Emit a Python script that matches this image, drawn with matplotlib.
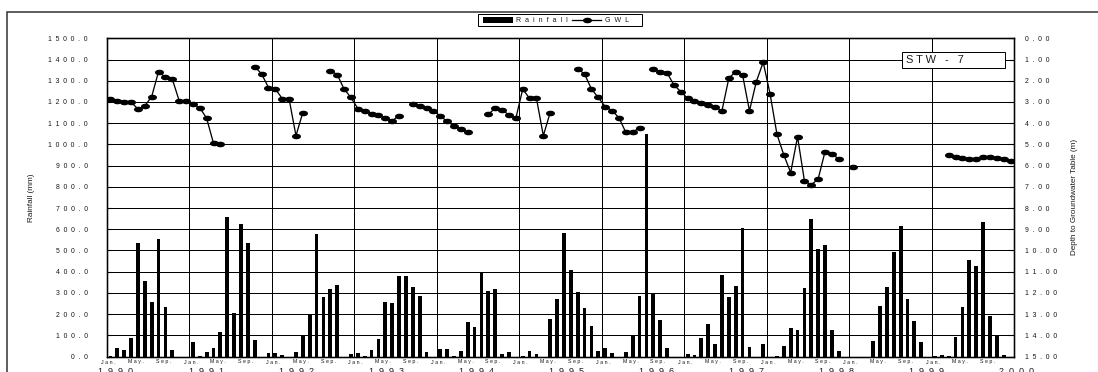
import numpy as np
import matplotlib
matplotlib.use("Agg")
import matplotlib.pyplot as plt
from matplotlib.patches import Rectangle
from matplotlib.lines import Line2D
from matplotlib.path import Path
from matplotlib.markers import MarkerStyle

plt.rcParams['font.family'] = ['Liberation Sans', 'DejaVu Sans']

nan = np.nan

# ---- data -------------------------------------------------------------
years = list(range(1990, 2001))
month_names = ['Jan.', 'May.', 'Sep.']
month_index = [0, 4, 8]
well_name = 'STW-7'

# monthly rainfall (mm), Jan..Dec
rain_1990 = [3, 42, 31, 85, 534, 357, 258, 554, 235, 31, 0, 0]
rain_1991 = [68, 3, 20, 38, 115, 656, 205, 625, 537, 77, 0, 17]
rain_1992 = [16, 8, 0, 20, 101, 195, 576, 280, 318, 339, 0, 14]
rain_1993 = [16, 3, 30, 82, 255, 252, 380, 378, 326, 287, 20, 0]
rain_1994 = [35, 36, 3, 25, 162, 139, 398, 307, 318, 13, 20, 0]
rain_1995 = [3, 24, 11, 0, 178, 272, 581, 409, 304, 230, 145, 24]
rain_1996 = [39, 17, 0, 19, 101, 285, 1049, 299, 173, 39, 0, 0]
rain_1997 = [11, 8, 87, 154, 60, 383, 279, 332, 605, 43, 0, 58]
rain_1998 = [0, 3, 49, 135, 126, 324, 648, 505, 524, 126, 24, 0]
rain_1999 = [0, 0, 0, 71, 239, 329, 493, 615, 271, 168, 66, 0]
rain_2000 = [3, 9, 3, 93, 231, 457, 428, 634, 192, 101, 9, 0]

# monthly depth to groundwater table (m), Jan..Dec
gwl_1990 = [2.86, 2.95, 2.98, 3.01, 3.33, 3.19, 2.75, 1.57, 1.84, 1.92, 2.94, 2.94]
gwl_1991 = [3.11, 3.27, 3.77, 4.95, 5.00, nan, nan, nan, nan, 1.33, 1.68, 2.32]
gwl_1992 = [2.39, 2.84, 2.86, 4.59, 3.50, nan, nan, nan, 1.52, 1.71, 2.39, 2.79]
gwl_1993 = [3.31, 3.44, 3.55, 3.63, 3.74, 3.90, 3.64, nan, 3.09, 3.19, 3.30, 3.41]
gwl_1994 = [3.66, 3.92, 4.13, 4.27, 4.43, nan, nan, 3.58, 3.30, 3.38, 3.61, 3.77]
gwl_1995 = [2.40, 2.83, 2.83, 4.59, 3.50, nan, nan, nan, 1.44, 1.68, 2.39, 2.79]
gwl_1996 = [3.22, 3.41, 3.74, 4.43, 4.43, 4.21, nan, 1.44, 1.57, 1.62, 2.20, 2.51]
gwl_1997 = [2.83, 2.94, 3.03, 3.14, 3.25, 3.41, 1.88, 1.57, 1.73, 3.42, 2.04, 1.13]
gwl_1998 = [2.62, 4.52, 5.50, 6.33, 4.64, 6.72, 6.91, 6.63, 5.34, 5.45, 5.69, nan]
gwl_1999 = [6.05, nan, nan, nan, nan, nan, nan, nan, nan, nan, nan, nan]
gwl_2000 = [nan, nan, 5.50, 5.58, 5.64, 5.70, 5.70, 5.61, 5.61, 5.66, 5.70, 5.80]

rainfall = np.array(rain_1990 + rain_1991 + rain_1992 + rain_1993 + rain_1994 +
                    rain_1995 + rain_1996 + rain_1997 + rain_1998 + rain_1999 +
                    rain_2000, dtype=float)
gwl = np.array(gwl_1990 + gwl_1991 + gwl_1992 + gwl_1993 + gwl_1994 +
               gwl_1995 + gwl_1996 + gwl_1997 + gwl_1998 + gwl_1999 +
               gwl_2000, dtype=float)


def spaced(s, gap=1):
    return (' ' * gap).join(s)


# ---- figure -----------------------------------------------------------
W, H, DPI = 1098, 372, 100
fig = plt.figure(figsize=(W / DPI, H / DPI), dpi=DPI)
fig.patch.set_facecolor('white')


def fx(px):
    return px / W


def fy(py):
    return 1 - py / H


PT = 72.0 / DPI  # points per pixel
INK = '#1a1a1a'

# plot area in pixels
AX_L, AX_R, AX_T, AX_B = 107, 1014, 38.3, 356.5

# outer chart frame
fig.add_artist(Rectangle((fx(7), fy(400)), fx(1200) - fx(7), fy(12) - fy(400),
                         transform=fig.transFigure, fill=False,
                         edgecolor='#3a3a3a', linewidth=1.6 * PT))

ax = fig.add_axes([fx(AX_L), fy(AX_B), fx(AX_R) - fx(AX_L), fy(AX_T) - fy(AX_B)])
n = len(rainfall)
x = np.arange(n) + 0.5

ax.bar(x, rainfall, width=0.55, color='black', zorder=3)
ax.set_xlim(0, n)
ax.set_ylim(0, 1500)

yt = np.arange(0, 1501, 100)
ax.set_yticks(yt)
ax.set_yticklabels([spaced(f'{v:.1f}', 2) for v in yt],
                   fontsize=6.9 * PT, color=INK)
ax.tick_params(axis='y', direction='in', length=3, width=0.8, pad=19 * PT)

# month labels under each year
xt, xl = [], []
for k in range(len(years)):
    for m, name in zip(month_index, month_names):
        xt.append(12 * k + m + 0.5 - 0.3)
        xl.append(spaced(name, 1))
ax.set_xticks(xt)
ax.set_xticklabels(xl, fontsize=5.3 * PT, color=INK)
ax.tick_params(axis='x', length=0, pad=3 * PT)
ax.set_xticks(np.arange(0, n + 1, 12), minor=True)
ax.tick_params(axis='x', which='minor', length=0)

ax.grid(axis='y', which='major', color='black', linewidth=1.0 * PT, zorder=1)
ax.grid(axis='x', which='minor', color='black', linewidth=1.0 * PT, zorder=1)
ax.grid(axis='x', which='major', visible=False)
ax.set_axisbelow(True)
for s in ax.spines.values():
    s.set_color('black')
    s.set_linewidth(1.3 * PT)

ax.set_ylabel('Rainfall (mm)', fontsize=8.2 * PT, color=INK, labelpad=13 * PT)

# year labels on a second row, spread evenly across the axis width
axis_h = AX_B - AX_T
year_y = (AX_B - 367.5) / axis_h
for k, yr in enumerate(years):
    pos = 0.0099 + k * (1.0033 - 0.0099) / (len(years) - 1)
    ax.text(pos, year_y, spaced(str(yr), 2), transform=ax.transAxes,
            fontsize=9 * PT, color=INK, ha='center', va='top', clip_on=False)

# groundwater level on inverted secondary axis
ax2 = ax.twinx()
ax2.set_ylim(15, 0)
gt = np.arange(0, 16, 1)
ax2.set_yticks(gt)
ax2.set_yticklabels([spaced(f'{v:.2f}', 2) for v in gt],
                    fontsize=6.9 * PT, color=INK)
ax2.tick_params(axis='y', direction='in', length=4, width=0.8, pad=11 * PT)
ax2.set_ylabel('Depth to Groundwater Table (m)', fontsize=8.2 * PT, color=INK,
               labelpad=14 * PT)
for s in ax2.spines.values():
    s.set_color('black')
    s.set_linewidth(1.3 * PT)

theta = np.linspace(0, 2 * np.pi, 41)
ellipse = MarkerStyle(Path(np.column_stack([np.cos(theta), 0.55 * np.sin(theta)])))
ax2.plot(x, gwl, color='black', linewidth=1.3 * PT, marker=ellipse,
         markersize=7.6 * PT, markerfacecolor='black', markeredgecolor='black',
         zorder=5)

# legend
fig.add_artist(Rectangle((fx(478.3), fy(25.7)), fx(642.3) - fx(478.3), fy(14) - fy(25.7),
                         transform=fig.transFigure, facecolor='white',
                         edgecolor='black', linewidth=1.0 * PT))
fig.add_artist(Rectangle((fx(482.5), fy(22.7)), fx(513.3) - fx(482.5), fy(17.3) - fy(22.7),
                         transform=fig.transFigure, facecolor='black',
                         edgecolor='none'))
fig.text(fx(515.7), fy(20), spaced('Rainfall', 2), fontsize=7 * PT, color=INK,
         ha='left', va='center')
fig.add_artist(Line2D([fx(571.7), fx(600.7)], [fy(19.8), fy(19.8)],
                      transform=fig.transFigure, color='black',
                      linewidth=1.3 * PT))
fig.add_artist(Line2D([fx(586.7)], [fy(19.8)], transform=fig.transFigure,
                      color='black', marker=ellipse, markersize=7.6 * PT,
                      linestyle='none'))
fig.text(fx(605), fy(20), spaced('GWL', 2), fontsize=7 * PT, color=INK,
         ha='left', va='center')

# well name box
fig.add_artist(Rectangle((fx(902.3), fy(67.7)), fx(1005.3) - fx(902.3), fy(52.3) - fy(67.7),
                         transform=fig.transFigure, facecolor='white',
                         edgecolor='black', linewidth=1.0 * PT, zorder=10))
fig.text(fx(905.5), fy(60.3), 'S T W   -   7', fontsize=11 * PT, color=INK,
         ha='left', va='center', zorder=11)

fig.savefig('out.png', dpi=DPI, facecolor='white')
